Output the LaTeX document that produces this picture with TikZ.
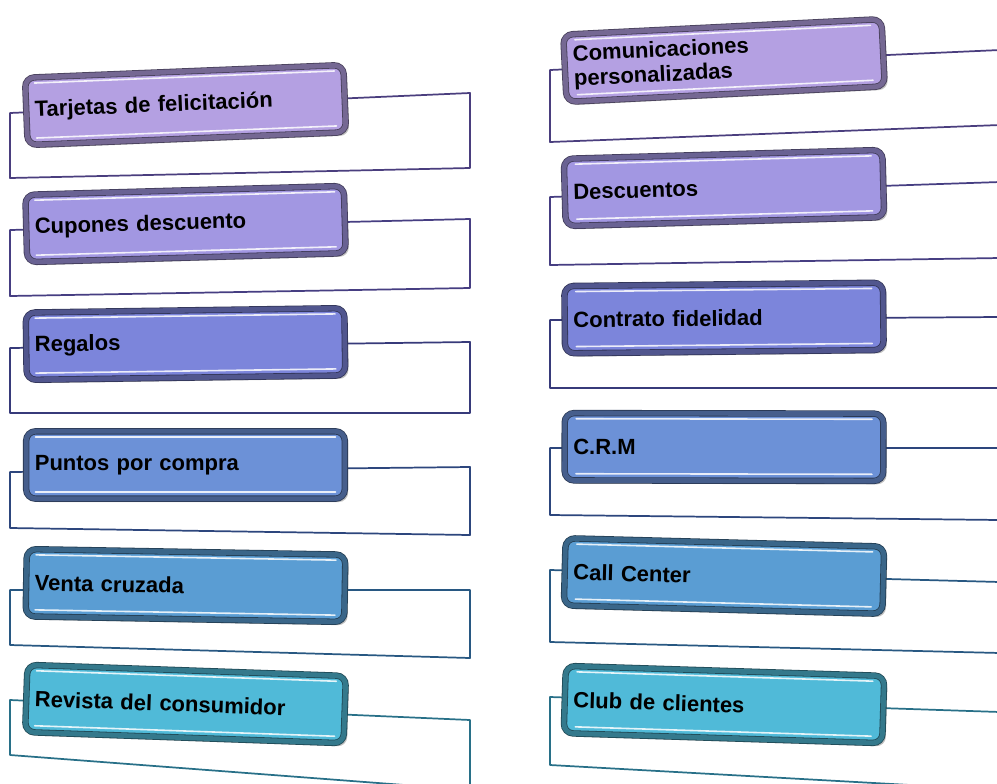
\documentclass[tikz,border=0pt]{standalone}
\usepackage{fontspec}
\setmainfont{Liberation Sans}
\usetikzlibrary{shadows}
\definecolor{lila}{RGB}{180,160,226}
\definecolor{malva}{RGB}{162,151,226}
\definecolor{anil}{RGB}{124,133,219}
\definecolor{azul}{RGB}{108,145,215}
\definecolor{cielo}{RGB}{90,157,211}
\definecolor{turquesa}{RGB}{80,186,216}
\definecolor{lilaosc}{RGB}{74,62,126}
\definecolor{malvaosc}{RGB}{70,62,130}
\definecolor{anilosc}{RGB}{55,58,122}
\definecolor{azulosc}{RGB}{45,70,125}
\definecolor{cieloosc}{RGB}{40,88,130}
\definecolor{turquesaosc}{RGB}{40,112,136}
\begin{document}
\begin{tikzpicture}[x=0.75pt, y=-0.75pt,
    panel/.style={fill=white, draw=#1, line width=1.3pt, line join=round},
    tile/.style={fill=#1, draw=#1!40!black, double=#1!65!black, double distance=3.6pt,
      line width=0.6pt, rounded corners=7pt, minimum width=239pt, minimum height=50.5pt,
      inner xsep=6.5pt, text width=226pt, align=left, inner ysep=0pt,
      font=\bfseries\fontsize{16.5}{18.5}\selectfont,
      drop shadow={shadow xshift=2.5pt, shadow yshift=-2.5pt, opacity=.35, fill=black!70}},
    glint/.style={white, line width=1.2pt, opacity=.85, line cap=round}]
  \useasboundingbox (0,0) rectangle (997,783);
  \clip (0,0) rectangle (997,783);
  % left column
  \draw[panel=lilaosc] (10,113) -- (470,93) -- (470,168) -- (10,178) -- cycle;
  \begin{scope}[shift={(185.5,105)}, rotate=2.3, transform shape]
    \node[tile=lila] (tarjetas) {Tarjetas de felicitación};
    \draw[glint] (-150,-28) -- (150,-28) (-150,27) -- (150,27);
  \end{scope}
  \draw[panel=malvaosc] (10,230) -- (470,219) -- (470,288) -- (10,296) -- cycle;
  \begin{scope}[shift={(185.5,224)}, rotate=1.6, transform shape]
    \node[tile=malva] (cupones) {Cupones descuento};
    \draw[glint] (-150,-28) -- (150,-28) (-150,27) -- (150,27);
  \end{scope}
  \draw[panel=anilosc] (10,348) -- (470,342) -- (470,413) -- (10,413) -- cycle;
  \begin{scope}[shift={(185.5,344)}, rotate=0.8, transform shape]
    \node[tile=anil] (regalos) {Regalos};
    \draw[glint] (-150,-28) -- (150,-28) (-150,27) -- (150,27);
  \end{scope}
  \draw[panel=azulosc] (10,472) -- (470,467) -- (470,535) -- (10,528) -- cycle;
  \begin{scope}[shift={(185.5,465)}, rotate=0, transform shape]
    \node[tile=azul] (puntos) {Puntos por compra};
    \draw[glint] (-150,-28) -- (150,-28) (-150,27) -- (150,27);
  \end{scope}
  \draw[panel=cieloosc] (10,590) -- (470,590) -- (470,658) -- (10,645) -- cycle;
  \begin{scope}[shift={(185.5,585.5)}, rotate=-1.0, transform shape]
    \node[tile=cielo] (venta) {Venta cruzada};
    \draw[glint] (-150,-28) -- (150,-28) (-150,27) -- (150,27);
  \end{scope}
  \draw[panel=turquesaosc] (10,700) -- (470,720) -- (470,790) -- (10,755) -- cycle;
  \begin{scope}[shift={(185.5,704)}, rotate=-2.0, transform shape]
    \node[tile=turquesa] (revista) {Revista del consumidor};
    \draw[glint] (-150,-28) -- (150,-28) (-150,27) -- (150,27);
  \end{scope}
  % right column
  \draw[panel=lilaosc] (550,70) -- (1000,50) -- (1000,125) -- (550,142) -- cycle;
  \begin{scope}[shift={(724,60.5)}, rotate=2.8, transform shape]
    \node[tile=lila] (comunicaciones) {Comunicaciones\\personalizadas};
    \draw[glint] (-148,-28) -- (148,-28) (-148,27) -- (148,27);
  \end{scope}
  \draw[panel=malvaosc] (550,197) -- (1000,182) -- (1000,258) -- (550,265) -- cycle;
  \begin{scope}[shift={(724,188)}, rotate=1.6, transform shape]
    \node[tile=malva] (descuentos) {Descuentos};
    \draw[glint] (-148,-28) -- (148,-28) (-148,27) -- (148,27);
  \end{scope}
  \draw[panel=anilosc] (550,320) -- (1000,317) -- (1000,388) -- (550,388) -- cycle;
  \begin{scope}[shift={(724,318)}, rotate=0.6, transform shape]
    \node[tile=anil] (contrato) {Contrato fidelidad};
    \draw[glint] (-148,-28) -- (148,-28) (-148,27) -- (148,27);
  \end{scope}
  \draw[panel=azulosc] (550,448) -- (1000,448) -- (1000,520) -- (550,515) -- cycle;
  \begin{scope}[shift={(724,447)}, rotate=-0.1, transform shape]
    \node[tile=azul] (crm) {C.R.M};
    \draw[glint] (-148,-28) -- (148,-28) (-148,27) -- (148,27);
  \end{scope}
  \draw[panel=cieloosc] (550,570) -- (1000,582) -- (1000,653) -- (550,642) -- cycle;
  \begin{scope}[shift={(724,576)}, rotate=-1.5, transform shape]
    \node[tile=cielo] (callcenter) {Call Center};
    \draw[glint] (-148,-28) -- (148,-28) (-148,27) -- (148,27);
  \end{scope}
  \draw[panel=turquesaosc] (550,697) -- (1000,712) -- (1000,790) -- (550,765) -- cycle;
  \begin{scope}[shift={(724,704.5)}, rotate=-1.8, transform shape]
    \node[tile=turquesa] (club) {Club de clientes};
    \draw[glint] (-148,-28) -- (148,-28) (-148,27) -- (148,27);
  \end{scope}
\end{tikzpicture}
\end{document}
